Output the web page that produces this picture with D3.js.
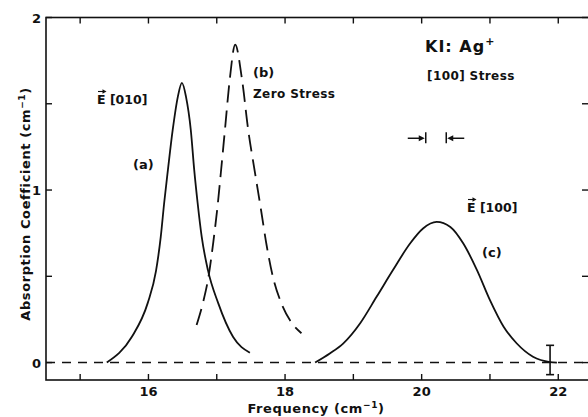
<!DOCTYPE html>
<html>
<head>
<meta charset="utf-8">
<script src="https://cdn.jsdelivr.net/npm/d3@7"></script>
<style>
	body { margin: 0; background: #fff; }
	svg { display: block; }
	text { font-family: "DejaVu Sans", sans-serif; font-weight: bold; fill: #111; }
</style>
</head>
<body>
<svg id="chart" width="588" height="417"></svg>
<script>
// curve (a): E [010], solid
var curveA = [
	[15.39, 0], [15.755, 0.148], [15.99, 0.346], [16.11, 0.53], [16.18, 0.728],
	[16.23, 0.925], [16.285, 1.117], [16.355, 1.348], [16.43, 1.54], [16.49, 1.621],
	[16.55, 1.54], [16.62, 1.348], [16.67, 1.117], [16.72, 0.925], [16.78, 0.728],
	[16.87, 0.537], [17.02, 0.346], [17.24, 0.148], [17.485, 0.057]
];
// curve (b): zero stress, dashed
var curveB = [
	[16.705, 0.218], [16.80, 0.35], [16.88, 0.50], [16.95, 0.70], [17.01, 0.90],
	[17.06, 1.10], [17.12, 1.35], [17.19, 1.64], [17.27, 1.843], [17.37, 1.64],
	[17.46, 1.35], [17.56, 1.10], [17.65, 0.88], [17.73, 0.68], [17.82, 0.50],
	[17.95, 0.34], [18.08, 0.24], [18.24, 0.17]
];
// curve (c): E [100], solid
var curveC = [
	[18.44, 0], [18.66, 0.054], [18.85, 0.11], [19.10, 0.228], [19.34, 0.381],
	[19.58, 0.536], [19.83, 0.69], [20.02, 0.777], [20.22, 0.815], [20.42, 0.786],
	[20.61, 0.69], [20.81, 0.536], [21.00, 0.362], [21.20, 0.208], [21.39, 0.112],
	[21.63, 0.034], [21.88, 0.003], [21.98, 0]
];

var xTicks = [15, 16, 17, 18, 19, 20, 21, 22];
var xLabels = [16, 18, 20, 22];
var yTicks = [0, 0.5, 1, 1.5, 2];
var yLabels = [0, 1, 2];

// resolution marker (cm^-1) and error bar
var resolution = [20.06, 20.36];
var resolutionY = 1.3;
var errorBar = { x: 21.88, lo: -0.07, hi: 0.10 };

var svg = d3.select('#chart');

var x = d3.scaleLinear().domain([14.5, 22.45]).range([46, 589]);
var y = d3.scaleLinear().domain([-0.101, 2]).range([380, 17.5]);

var line = d3.line()
	.x(function(d){ return x(d[0]); })
	.y(function(d){ return y(d[1]); })
	.curve(d3.curveMonotoneX);

// frame
svg.append('rect')
	.attr('x', x.range()[0]).attr('y', y.range()[1])
	.attr('width', x.range()[1] - x.range()[0])
	.attr('height', y.range()[0] - y.range()[1])
	.attr('fill', 'none').attr('stroke', '#111').attr('stroke-width', 1.6);

// inward ticks on all sides
var tk = 6;
svg.append('g').selectAll('line').data(xTicks).enter().append('line')
	.attr('x1', x).attr('x2', x)
	.attr('y1', y.range()[0]).attr('y2', y.range()[0] - tk)
	.attr('stroke', '#111').attr('stroke-width', 1.4);
svg.append('g').selectAll('line').data(xTicks).enter().append('line')
	.attr('x1', x).attr('x2', x)
	.attr('y1', y.range()[1]).attr('y2', y.range()[1] + tk)
	.attr('stroke', '#111').attr('stroke-width', 1.4);
svg.append('g').selectAll('line').data(yTicks).enter().append('line')
	.attr('y1', y).attr('y2', y)
	.attr('x1', x.range()[0]).attr('x2', x.range()[0] + tk)
	.attr('stroke', '#111').attr('stroke-width', 1.4);
svg.append('g').selectAll('line').data(yTicks).enter().append('line')
	.attr('y1', y).attr('y2', y)
	.attr('x1', x.range()[1] - 1).attr('x2', x.range()[1] - 1 - tk)
	.attr('stroke', '#111').attr('stroke-width', 1.4);

// tick labels
svg.append('g').selectAll('text').data(xLabels).enter().append('text')
	.attr('x', x).attr('y', 396)
	.attr('text-anchor', 'middle').attr('font-size', 13)
	.text(function(d){ return d; });
svg.append('g').selectAll('text').data(yLabels).enter().append('text')
	.attr('x', 41).attr('y', function(d){ return y(d) + 5; })
	.attr('text-anchor', 'end').attr('font-size', 13)
	.text(function(d){ return d; });

// axis titles
var xt = svg.append('text')
	.attr('x', 316).attr('y', 413)
	.attr('text-anchor', 'middle').attr('font-size', 13)
	.attr('letter-spacing', 0.6);
xt.append('tspan').text('Frequency  (cm');
xt.append('tspan').attr('dy', -5).attr('font-size', 9).text('−1');
xt.append('tspan').attr('dy', 5).text(')');

var yt = svg.append('text')
	.attr('transform', 'translate(30,204) rotate(-90)')
	.attr('text-anchor', 'middle').attr('font-size', 13)
	.attr('letter-spacing', 0.6);
yt.append('tspan').text('Absorption  Coefficient  (cm');
yt.append('tspan').attr('dy', -5).attr('font-size', 9).text('−1');
yt.append('tspan').attr('dy', 5).text(')');

// zero baseline
svg.append('line')
	.attr('x1', x.range()[0]).attr('x2', x.range()[1])
	.attr('y1', y(0)).attr('y2', y(0))
	.attr('stroke', '#111').attr('stroke-width', 1.5)
	.attr('stroke-dasharray', '9,7');

// curves
svg.append('path').datum(curveA).attr('d', line)
	.attr('fill', 'none').attr('stroke', '#111').attr('stroke-width', 1.8);
svg.append('path').datum(curveB).attr('d', line)
	.attr('fill', 'none').attr('stroke', '#111').attr('stroke-width', 1.8)
	.attr('stroke-dasharray', '17,8');
svg.append('path').datum(curveC).attr('d', line)
	.attr('fill', 'none').attr('stroke', '#111').attr('stroke-width', 1.8);

// error bar
var eb = svg.append('g').attr('stroke', '#111').attr('stroke-width', 1.6);
eb.append('line').attr('x1', x(errorBar.x)).attr('x2', x(errorBar.x))
	.attr('y1', y(errorBar.hi)).attr('y2', y(errorBar.lo));
[errorBar.hi, errorBar.lo].forEach(function(v){
	eb.append('line').attr('x1', x(errorBar.x) - 4).attr('x2', x(errorBar.x) + 4)
		.attr('y1', y(v)).attr('y2', y(v));
});

// resolution marker
var ry = y(resolutionY);
var rm = svg.append('g');
resolution.forEach(function(v, i){
	var px = x(v), dir = i === 0 ? -1 : 1;
	rm.append('line').attr('x1', px).attr('x2', px).attr('y1', ry - 6).attr('y2', ry + 5)
		.attr('stroke', '#111').attr('stroke-width', 1.5);
	rm.append('line').attr('x1', px + dir * 18).attr('x2', px + dir * 5)
		.attr('y1', ry).attr('y2', ry)
		.attr('stroke', '#111').attr('stroke-width', 1.5);
	rm.append('path')
		.attr('d', 'M' + (px + dir * 1) + ',' + ry + 'L' + (px + dir * 7) + ',' + (ry - 3) + 'L' + (px + dir * 7) + ',' + (ry + 3) + 'Z')
		.attr('fill', '#111');
});

// annotations
function vecE(xp, yp, label){
	var g = svg.append('g');
	g.append('text').attr('x', xp).attr('y', yp).attr('font-size', 12.5).text('E  ' + label);
	var ay = yp - 12.5;
	g.append('line').attr('x1', xp + 1).attr('x2', xp + 7)
		.attr('y1', ay).attr('y2', ay)
		.attr('stroke', '#111').attr('stroke-width', 1.1);
	g.append('path')
		.attr('d', 'M' + (xp + 9.5) + ',' + ay + 'L' + (xp + 5.5) + ',' + (ay - 2.2) + 'L' + (xp + 5.5) + ',' + (ay + 2.2) + 'Z')
		.attr('fill', '#111');
}
vecE(97, 104, '[010]');
vecE(467, 212, '[100]');

svg.append('text').attr('x', 133).attr('y', 169).attr('font-size', 13).text('(a)');
svg.append('text').attr('x', 253).attr('y', 77).attr('font-size', 13).text('(b)');
svg.append('text').attr('x', 253).attr('y', 98).attr('font-size', 12).attr('letter-spacing', 0.4).text('Zero Stress');
svg.append('text').attr('x', 482).attr('y', 257).attr('font-size', 13).text('(c)');

var kt = svg.append('text').attr('x', 425).attr('y', 52).attr('font-size', 16)
	.attr('letter-spacing', 1);
kt.append('tspan').text('KI: Ag');
kt.append('tspan').attr('dy', -7).attr('font-size', 11).text('+');
svg.append('text').attr('x', 427).attr('y', 80).attr('font-size', 12).attr('letter-spacing', 0.4).text('[100]  Stress');
</script>
</body>
</html>
